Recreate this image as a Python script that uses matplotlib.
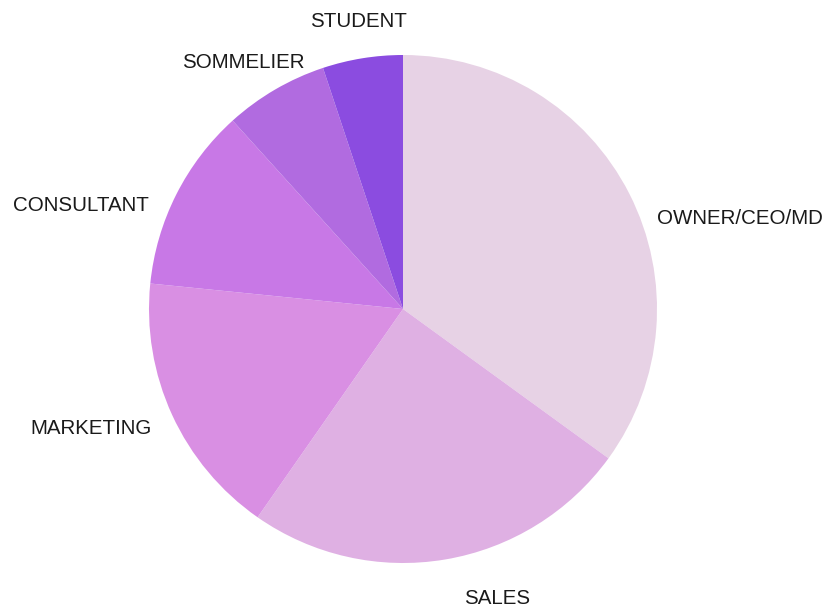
import matplotlib
matplotlib.use("Agg")
import matplotlib.pyplot as plt

# slice shares (percent), clockwise from 12 o'clock
categories = ["OWNER/CEO/MD", "SALES", "MARKETING", "CONSULTANT", "SOMMELIER", "STUDENT"]
shares = [35.0, 24.7, 16.9, 11.7, 6.6, 5.1]
colors = ["#e7d2e5", "#dfb0e3", "#d98fe3", "#c878e6", "#b16be0", "#8b4ce0"]

# label centres in data units (pie radius = 1)
label_pos = [(1.327, 0.358), (0.370, -1.138), (-1.228, -0.469),
             (-1.268, 0.406), (-0.630, 0.972), (-0.177, 1.130)]

W, H = 827, 607
CX, CY, R = 403, 309, 254

fig = plt.figure(figsize=(W / 100, H / 100), dpi=100)
ax = fig.add_axes([0, 0, 1, 1])
ax.pie(shares, colors=colors, startangle=90, counterclock=False,
       radius=1.0, center=(0, 0), wedgeprops=dict(linewidth=0))
ax.set_xlim(-CX / R, (W - CX) / R)
ax.set_ylim(-(H - CY) / R, CY / R)
ax.set_aspect("equal")
ax.axis("off")

for name, (x, y) in zip(categories, label_pos):
    ax.text(x, y, name, ha="center", va="center", fontsize=14.8,
            family="Liberation Sans", color="#1a1a1a")

fig.savefig("out.png", dpi=100)
